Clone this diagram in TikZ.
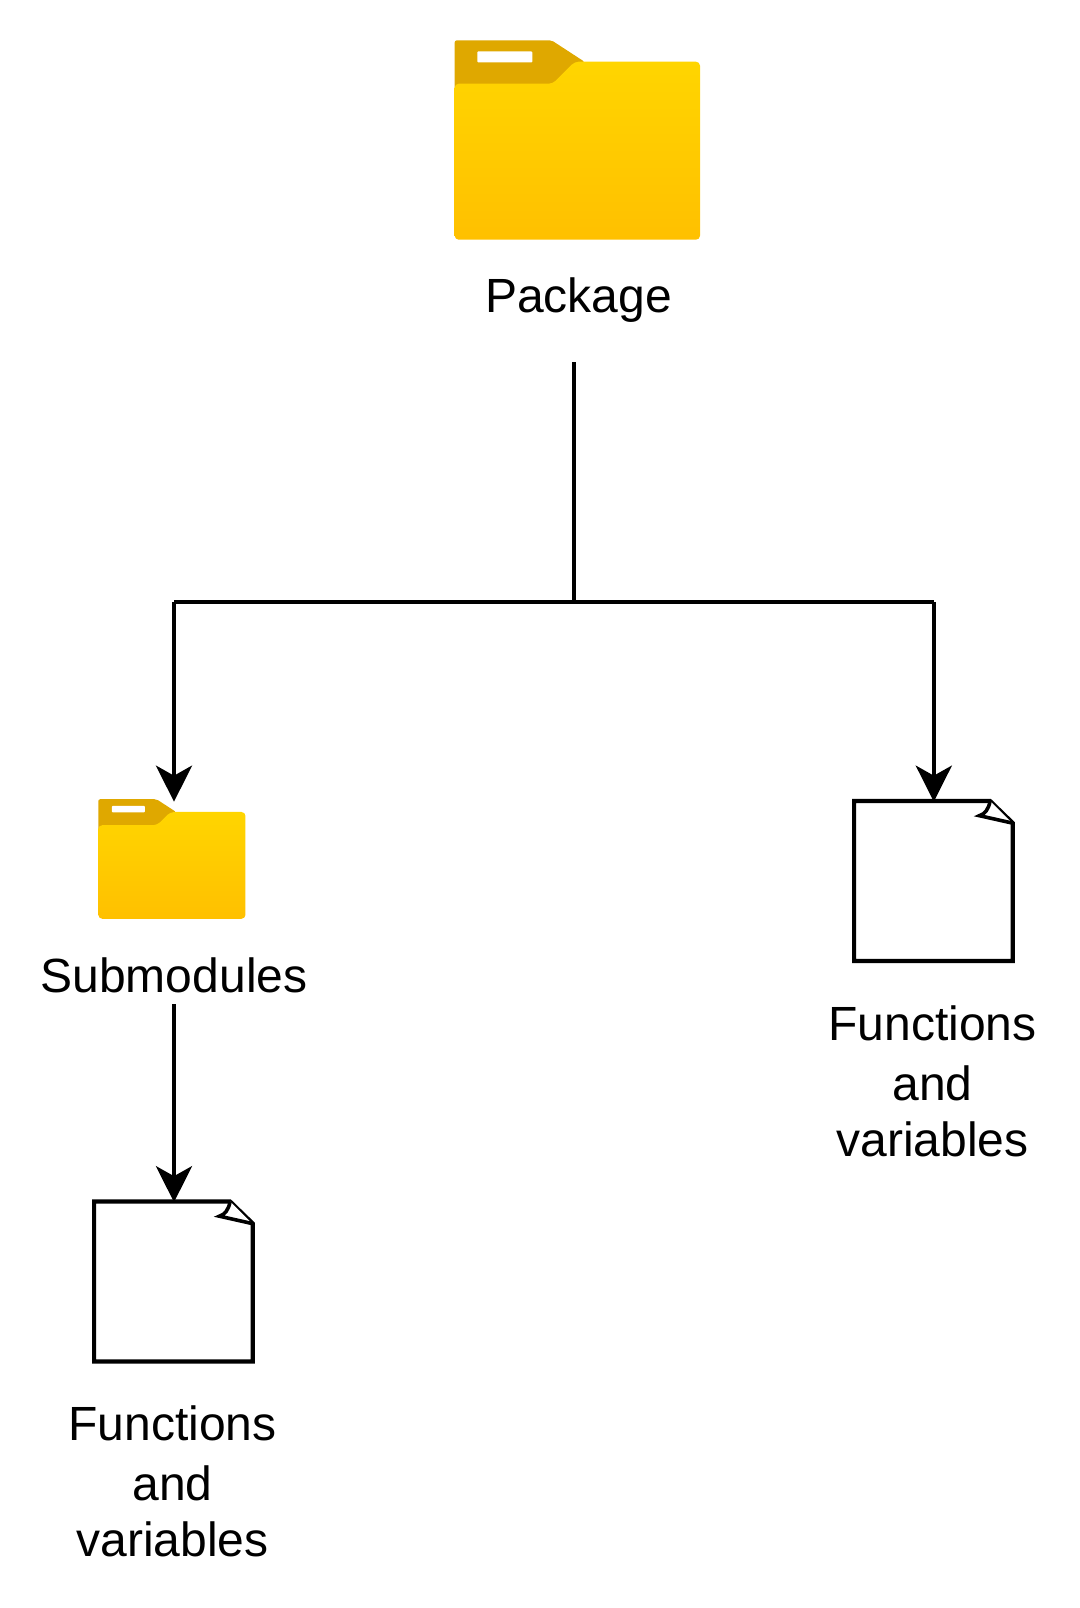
\documentclass[tikz,border=0pt]{standalone}
\usepackage{fontspec}
\setmainfont{Liberation Sans}
\usetikzlibrary{arrows.meta}
\definecolor{tabgold}{HTML}{DFA800}
\definecolor{foldertop}{HTML}{FFD500}
\definecolor{folderbot}{HTML}{FFC000}
\tikzset{
  label text/.style={font=\fontsize{36}{42}\selectfont,text=black,inner sep=0pt,align=center},
  wire/.style={draw=black,line width=3.1pt},
  arrow wire/.style={wire,shorten >=-0.5pt,-{Stealth[length=27pt,width=27pt,inset=7.5pt]}},
  page box/.style={rectangle,minimum width=119pt,minimum height=120pt,inner sep=0pt,outer sep=0pt},
  page line/.style={draw=black,line width=3.1pt,line join=miter,fill=white},
  foldericon/.pic={
    \fill[tabgold,rounded corners=1.5pt] (0,60) -- (0,0) -- (97,0) -- (130,21.5) -- (130,60) -- cycle;
    \shade[top color=foldertop,bottom color=folderbot,rounded corners=3pt]
      (0,43.3) -- (98,43.3) -- (120,21.3) -- (245.3,21.3) -- (245.3,199.3) -- (0,199.3) -- cycle;
    \fill[white,rounded corners=0.7pt] (22.6,11) rectangle (77.6,22);
  }
}
\newcommand{\pagecorner}[1]{%
  \draw[page line] (#1.north west) -- ([xshift=-17pt]#1.north east) -- ([yshift=-16.5pt]#1.north east)
     -- (#1.south east) -- (#1.south west) -- cycle;
  \draw[page line,line width=2.7pt,miter limit=10]
     ([xshift=-17pt]#1.north east) .. controls ([xshift=-18pt,yshift=-6pt]#1.north east) and ([xshift=-21pt,yshift=-10pt]#1.north east) .. ([xshift=-25pt,yshift=-11pt]#1.north east)
     -- ([xshift=-0.5pt,yshift=-16.5pt]#1.north east);
}
\begin{document}
\begin{tikzpicture}[x=0.75pt,y=-0.75pt]
\useasboundingbox (0,0) rectangle (1080,1608);
\pic at (454.7,40.4) {foldericon};
\pic[scale=0.6] at (98.3,799.2) {foldericon};

\node[label text,anchor=base] (pkglabel) at (578.5,313) {Package};
\node[label text,anchor=base] (sublabel) at (174,992) {Submodules};

\node[page box] (rightpage) at (933.4,881) {};
\node[page box] (leftpage) at (173.4,1281.5) {};
\pagecorner{rightpage}
\pagecorner{leftpage}

\node[label text] (rightlabel) at (932.5,1081.5) {Functions\\[3pt]and\\variables};
\node[label text] (leftlabel) at (172.5,1481.5) {Functions\\[3pt]and\\variables};

\coordinate (trunktop) at (574,362);
\coordinate (junction) at (574,602);
\coordinate (leftcorner) at (174,602);
\coordinate (rightcorner) at (933.8,602);
\coordinate (folderentry) at (174,801);
\coordinate (subout) at (174,1004);

\draw[wire] (trunktop) -- (junction);
\draw[wire] (leftcorner) -- (rightcorner);
\draw[arrow wire] (leftcorner) -- (folderentry);
\draw[arrow wire] (rightcorner) -- (rightcorner |- rightpage.north);
\draw[arrow wire] (subout) -- (subout |- leftpage.north);
\end{tikzpicture}
\end{document}
